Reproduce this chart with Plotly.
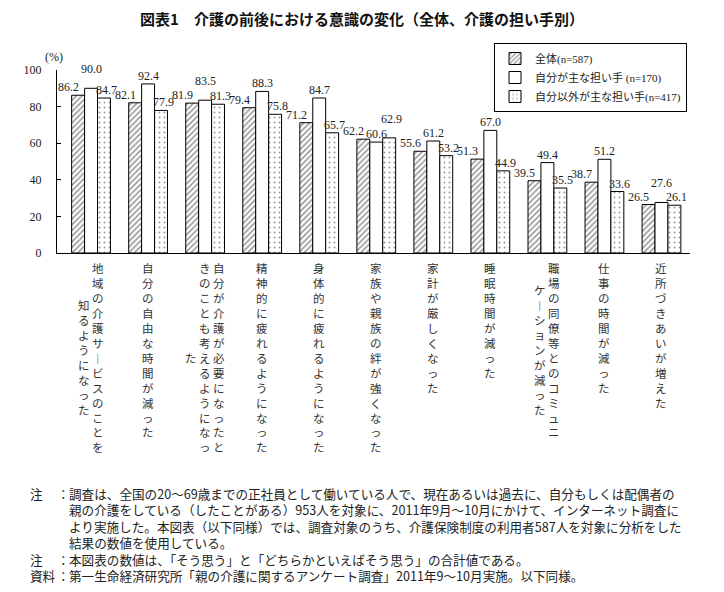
import plotly.graph_objects as go

# Data
label_cols = [
    ["地域の介護サービスのことを", "知るようになった"],
    ["自分の自由な時間が減った"],
    ["自分が介護が必要になったと", "きのことも考えるようになっ", "た"],
    ["精神的に疲れるようになった"],
    ["身体的に疲れるようになった"],
    ["家族や親族の絆が強くなった"],
    ["家計が厳しくなった"],
    ["睡眠時間が減った"],
    ["職場の同僚等とのコミュニ", "ケーションが減った"],
    ["仕事の時間が減った"],
    ["近所づきあいが増えた"],
]
categories = ["".join(c) for c in label_cols]

series_names = ["全体(n=587)", "自分が主な担い手 (n=170)", "自分以外が主な担い手(n=417)"]
zentai = [86.2, 82.1, 81.9, 79.4, 71.2, 62.2, 55.6, 51.3, 39.5, 38.7, 26.5]
jibun = [90.0, 92.4, 83.5, 88.3, 84.7, 60.6, 61.2, 67.0, 49.4, 51.2, 27.6]
jibun_igai = [84.7, 77.9, 81.3, 75.8, 65.7, 62.9, 53.2, 44.9, 35.5, 33.6, 26.1]
y_ticks = [0, 20, 40, 60, 80, 100]

title = "図表1　介護の前後における意識の変化（全体、介護の担い手別）"
notes = [
    ("注", "調査は、全国の20～69歳までの正社員として働いている人で、現在あるいは過去に、自分もしくは配偶者の"),
    ("", "親の介護をしている（したことがある）953人を対象に、2011年9月～10月にかけて、インターネット調査に"),
    ("", "より実施した。本図表（以下同様）では、調査対象のうち、介護保険制度の利用者587人を対象に分析をした"),
    ("", "結果の数値を使用している。"),
    ("注", "本図表の数値は、「そう思う」と「どちらかといえばそう思う」の合計値である。"),
    ("資料", "第一生命経済研究所「親の介護に関するアンケート調査」2011年9～10月実施。以下同様。"),
]

# page coordinates (window 724x592, page body has 8px margin)
PAGE_W, PAGE_H, OFF = 724, 592, 8
W, H = PAGE_W - OFF, PAGE_H - OFF
L, R, T, B = 57, 690, 70, 253


def px(x):
    return (x - L) / (R - L)


def py(y):
    return (B - y) / (B - T)


SERIF = "Liberation Serif, Noto Sans CJK JP"
JP = "Noto Sans CJK JP"

fig = go.Figure()

fig.add_trace(go.Bar(
    name=series_names[0], x=categories, y=zentai,
    marker=dict(color="white", line=dict(color="black", width=1),
                pattern=dict(shape="/", fgcolor="#333", bgcolor="white", size=4, solidity=0.4)),
))
fig.add_trace(go.Bar(
    name=series_names[1], x=categories, y=jibun,
    marker=dict(color="white", line=dict(color="black", width=1)),
))
fig.add_trace(go.Bar(
    name=series_names[2], x=categories, y=jibun_igai,
    marker=dict(color="white", line=dict(color="black", width=1),
                pattern=dict(shape=".", fgcolor="#333", bgcolor="white", size=5, solidity=0.12)),
))

# value labels
annotations = []
cat_w = (R - L) / len(categories)
bar_w = cat_w * (1 - 0.32) / 3
series = [zentai, jibun, jibun_igai]
for i, cat in enumerate(categories):
    vals = [s[i] for s in series]
    top = max(range(3), key=lambda k: vals[k])
    for k in range(3):
        raise_px = 0
        if k == top:
            others = [vals[j] for j in range(3) if abs(j - k) == 1]
            if any(vals[k] - o < 5 for o in others):
                raise_px = 11
        if k == 0:
            anchor, shift = "right", -bar_w + 2
        elif k == 1:
            anchor, shift = "center", 0
        else:
            anchor, shift = "left", bar_w / 2 - 3
        annotations.append(dict(
            x=cat, y=vals[k], xref="x", yref="y", text=f"{vals[k]:.1f}",
            showarrow=False, xanchor=anchor, yanchor="bottom",
            xshift=shift, yshift=raise_px, borderpad=0,
            font=dict(family=SERIF, size=12, color="#222"),
        ))

# vertical category labels
fs = 11.5
lh = fs * 1.3
col_gap = 14
for i, cols in enumerate(label_cols):
    n = len(cols)
    nmax = max(len(c) for c in cols)
    for j, col in enumerate(cols):
        txt = "<br>".join(ch if ch != "ー" else "︱" for ch in col)
        annotations.append(dict(
            x=categories[i], xref="x", y=py(258), yref="paper",
            text=txt, showarrow=False, xanchor="center", yanchor="top",
            xshift=((n - 1) / 2 - j) * col_gap,
            yshift=-(nmax - len(col)) / 2 * lh,
            font=dict(family=JP, size=fs, color="#333"),
        ))

# (%) label
annotations.append(dict(x=px(43), y=py(48), xref="paper", yref="paper", text="(%)",
                        showarrow=False, font=dict(family=SERIF, size=12, color="#222")))

# notes: one block per column (heads, colons, bodies)
note_font = dict(family=JP, size=12.6, color="#222")
heads = "<br>".join(h if h else " " for h, _ in notes)
colons = "<br>".join("：" if h else " " for h, _ in notes)
bodies = "<br>".join(b for _, b in notes)
for xpos, txt in [(29, heads), (56, colons), (68, bodies)]:
    annotations.append(dict(x=px(xpos), y=py(483), xref="paper", yref="paper", text=txt,
                            showarrow=False, xanchor="left", yanchor="top", align="left",
                            borderpad=0, font=note_font))

fig.update_layout(
    width=W, height=H,
    margin=dict(l=L - OFF, r=PAGE_W - R, t=T - OFF, b=PAGE_H - B, autoexpand=False),
    plot_bgcolor="white", paper_bgcolor="white",
    barmode="group", bargap=0.32, bargroupgap=0,
    title=dict(text=f"<b>{title}</b>", x=(362 - OFF) / W, xref="container", xanchor="center",
               y=1 - (20 - OFF) / H, yref="container", yanchor="middle",
               font=dict(family=JP, size=15, color="#111")),
    xaxis=dict(showline=True, linecolor="black", linewidth=1, showticklabels=False,
               ticks="", showgrid=False, zeroline=False, automargin=False),
    yaxis=dict(range=[0, 100], tickvals=y_ticks, showline=True, linecolor="black",
               linewidth=1, ticks="inside", ticklen=4, tickcolor="black",
               showgrid=False, zeroline=False, ticklabelstandoff=12, automargin=False,
               tickfont=dict(family=SERIF, size=12, color="#222")),
    legend=dict(x=px(687), y=py(43), xanchor="right", yanchor="top",
                bordercolor="black", borderwidth=1, bgcolor="white",
                font=dict(family=SERIF, size=11, color="#222"),
                tracegroupgap=0, itemwidth=30),
    annotations=annotations,
    showlegend=True,
)

fig.write_html("out.html")
